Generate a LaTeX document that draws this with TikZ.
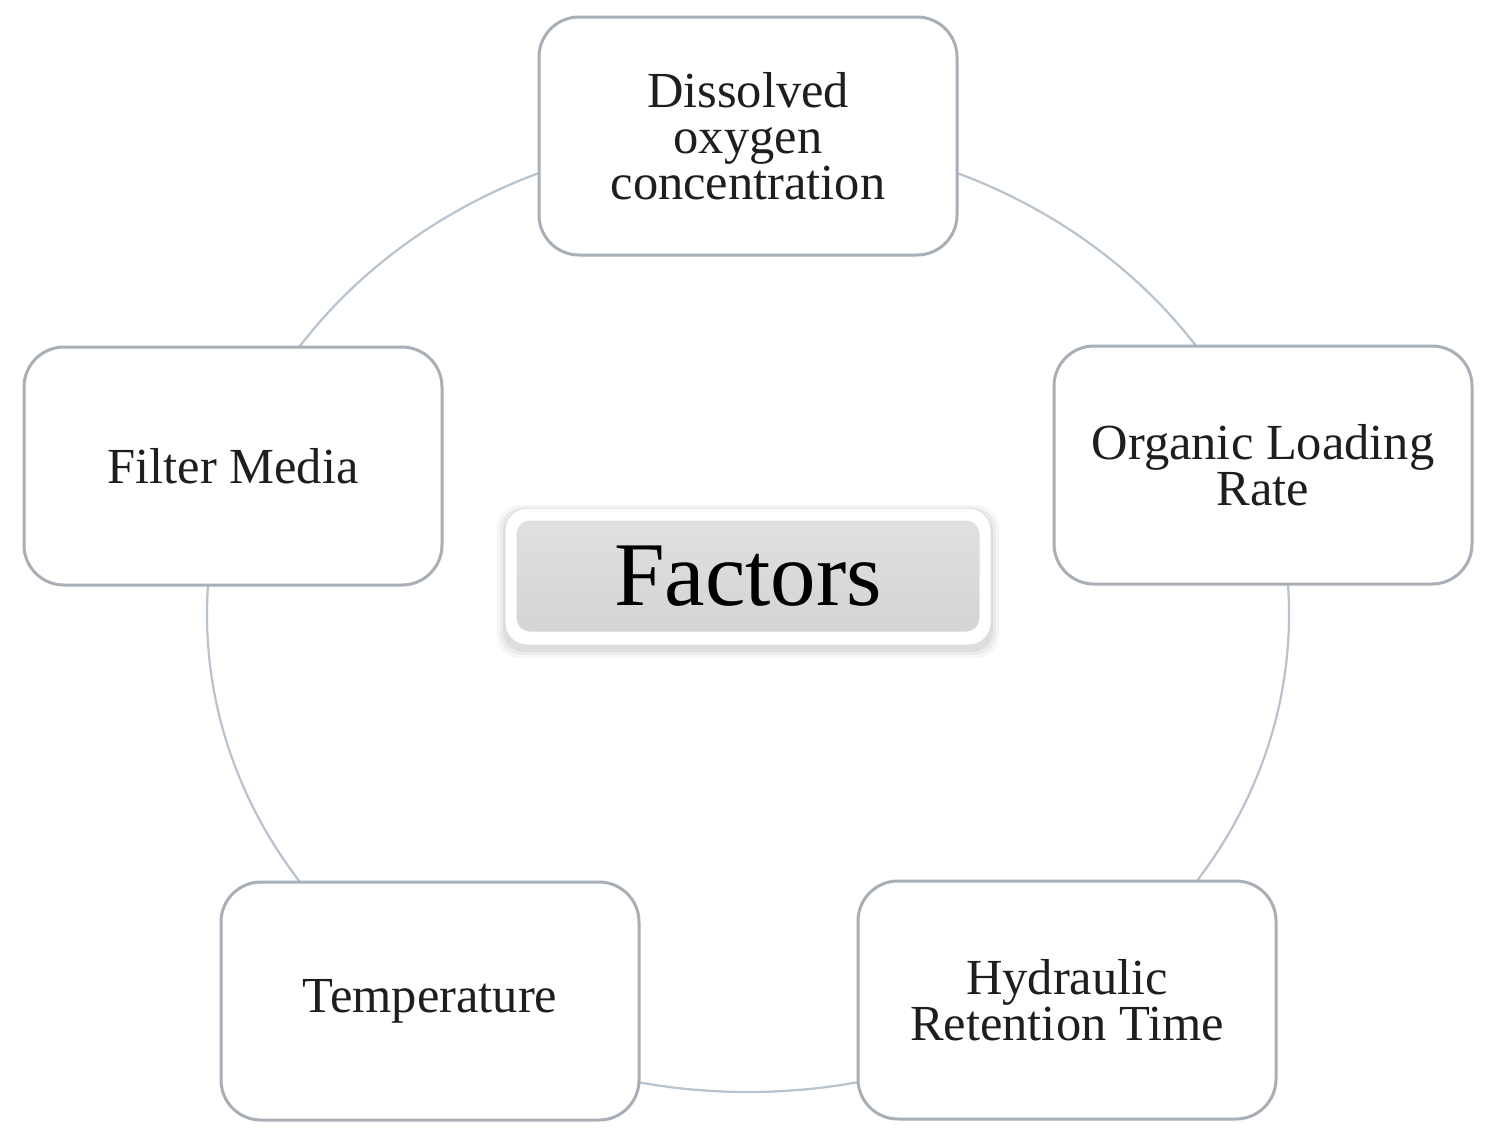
\documentclass[tikz,border=0pt]{standalone}
\usepackage{fontspec}
\setmainfont{Liberation Serif}
\definecolor{boxline}{HTML}{A9AFB6}
\definecolor{ringline}{HTML}{B9C3CE}
\definecolor{txt}{HTML}{1E1E1E}
\definecolor{fillTop}{HTML}{E0E0E0}
\definecolor{fillBot}{HTML}{D4D4D4}
\begin{document}
\begin{tikzpicture}[x=1pt,y=-1pt,
  factorbox/.style={draw=boxline, line width=3pt, fill=white, rounded corners=40pt,
    minimum width=418pt, minimum height=238pt, align=center, text=txt,
    font=\fontsize{50.5}{46}\selectfont, inner sep=0pt},
  ring/.style={draw=ringline, line width=2.2pt},
  centrebox/.style={rounded corners=16pt, minimum width=468pt, minimum height=116pt,
    top color=fillTop, bottom color=fillBot, draw=white, line width=5pt,
    text=black, font=\fontsize{91}{91}\selectfont, inner sep=0pt}
]
\useasboundingbox (0,0) rectangle (1487,1141);
\fill[white] (0,0) rectangle (1487,1141);

% ring
\draw[ring] (748,614) ellipse [x radius=541pt, y radius=478pt];

% outer boxes
\node[factorbox] (dox) at (748,136) {Dissolved\\oxygen\\concentration};
\node[factorbox] (olr) at (1263,465) {Organic Loading\\Rate};
\node[factorbox] (hrt) at (1067,1000) {Hydraulic\\Retention Time};
\node[factorbox] (tmp) at (430,1001) {Temperature};
\node[factorbox] (flt) at (233,466) {Filter Media};

% centre box shadow and glow
\foreach \d/\o in {8/0.035,5/0.045,2/0.06}{
  \fill[black, opacity=\o, rounded corners=22pt]
    (505-\d,508-\d+5) rectangle (991+\d,645+\d+5);
}
\fill[white, rounded corners=22pt] (505,508) rectangle (991,645);
\draw[gray!25, line width=1pt, rounded corners=22pt] (505,508) rectangle (991,645);
\node[centrebox] (fac) at (748,576) {Factors};
\end{tikzpicture}
\end{document}
